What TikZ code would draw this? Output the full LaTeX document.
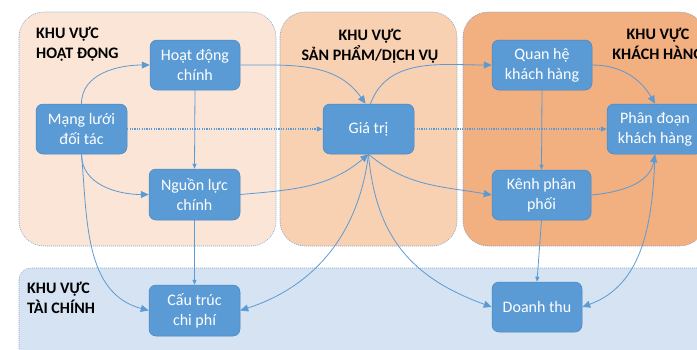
\documentclass[tikz,border=0pt]{standalone}
\usepackage{fontspec}
\setmainfont{Carlito}
\usetikzlibrary{arrows.meta,calc}

\definecolor{zoneA}{HTML}{FBE5D6}
\definecolor{zoneB}{HTML}{F8D0B2}
\definecolor{zoneC}{HTML}{F2AF80}
\definecolor{zoneD}{HTML}{D5E3F2}
\definecolor{boxblue}{HTML}{5B9BD5}
\definecolor{boxedge}{HTML}{4A86C0}
\definecolor{zoneedge}{HTML}{8AA6C8}

\begin{document}
\begin{tikzpicture}[x=1pt,y=1pt,
  zone/.style={fill=#1, draw=zoneedge, line width=0.6pt,
    dash pattern=on 1pt off 1pt, rounded corners=25pt},
  block/.style={fill=boxblue, draw=boxedge, line width=0.5pt,
    rounded corners=7pt, text=white, align=center, inner sep=0pt,
    font=\fontsize{16}{20}\selectfont},
  zonetitle/.style={font=\bfseries\fontsize{16}{20}\selectfont, inner sep=0pt},
  link/.style={draw=boxblue, line width=0.8pt, -{Triangle[length=8pt,width=7pt]}},
  shortlink/.style={draw=boxblue, line width=0.8pt, -{Triangle[length=5pt,width=4pt]}},
  dotlink/.style={draw=boxblue, line width=1.1pt, dash pattern=on 1.2pt off 1.2pt,
    -{Triangle[length=6pt,width=5pt]}}
]
\useasboundingbox (0,0) rectangle (697,-349);
\clip (0,0) rectangle (697,-349);

% four zones
\draw[zone=zoneA] (19,-12) rectangle (276,-246);
\draw[zone=zoneB] (280,-12) rectangle (457,-246);
\draw[zone=zoneC] (463,-12) rectangle (705,-246);
\draw[zone=zoneD, rounded corners=12pt] (19,-268) rectangle (712,-370);

% zone titles
\node[zonetitle, anchor=north west, align=left] (tA) at (36,-26.5) {KHU VỰC\\HOẠT ĐỘNG};
\node[zonetitle, anchor=north, align=center] (tB) at (370,-28.5) {KHU VỰC\\SẢN PHẨM/DỊCH VỤ};
\node[zonetitle, anchor=north, align=center] (tC) at (658,-27.5) {KHU VỰC\\KHÁCH HÀNG};
\node[zonetitle, anchor=north west, align=left] (tD) at (27,-281.5) {KHU VỰC\\TÀI CHÍNH};

% building blocks
\node[block, minimum width=90pt, minimum height=50pt] (hd) at (195,-65) {Hoạt động\\chính};
\node[block, minimum width=91pt, minimum height=50pt] (ml) at (81.5,-129) {Mạng lưới\\đối tác};
\node[block, minimum width=91pt, minimum height=51pt] (nl) at (194.5,-194.5) {Nguồn lực\\chính};
\node[block, minimum width=91pt, minimum height=51pt] (ct) at (194.5,-310.5) {Cấu trúc\\chi phí};
\node[block, minimum width=91pt, minimum height=50pt] (gt) at (368.5,-129) {Giá trị};
\node[block, minimum width=100pt, minimum height=50pt] (qh) at (542,-65) {Quan hệ\\khách hàng};
\node[block, minimum width=96pt, minimum height=50pt] (pd) at (655,-129) {Phân đoạn\\khách hàng};
\node[block, minimum width=99pt, minimum height=50pt] (kp) at (541.5,-195) {Kênh phân\\phối};
\node[block, minimum width=90pt, minimum height=50pt] (dt) at (537,-307) {Doanh thu};

% connectors
\draw[link] (ml.north) to[out=90,in=180] (hd.west);
\draw[link] (ml.south) to[out=-90,in=180] (nl.west);
\draw[link] (ml.south) to[out=-85,in=165] (ct.west);
\draw[dotlink] (ml.east) -- (gt.west);
\draw[shortlink] (hd.south) -- (nl.north);
\draw[shortlink] (nl.south) -- (ct.north);
\draw[link] (hd.east) to[out=0,in=125] ($(gt.north)+(-3,0)$);
\draw[link] ($(gt.north)+(2,0)$) to[out=70,in=180] (qh.west);
\draw[dotlink] (gt.east) -- (pd.west);
\draw[link] (qh.east) to[out=0,in=120] (pd.north);
\draw[shortlink] (qh.south) -- (kp.north);
\draw[link] (kp.east) to[out=5,in=-100] (pd.south);
\draw[shortlink] (kp.south) -- (dt.north);
\draw[link] (pd.south) to[out=-92,in=20] (dt.east);
\draw[link] (nl.east) to[out=5,in=-140] (gt.south);
\draw[link] (gt.south) to[out=-40,in=170] (kp.west);
\draw[link] (gt.south) to[out=-97,in=18] (ct.east);
\draw[link] (gt.south) to[out=-85,in=160,looseness=1.1] (dt.west);
\end{tikzpicture}
\end{document}
